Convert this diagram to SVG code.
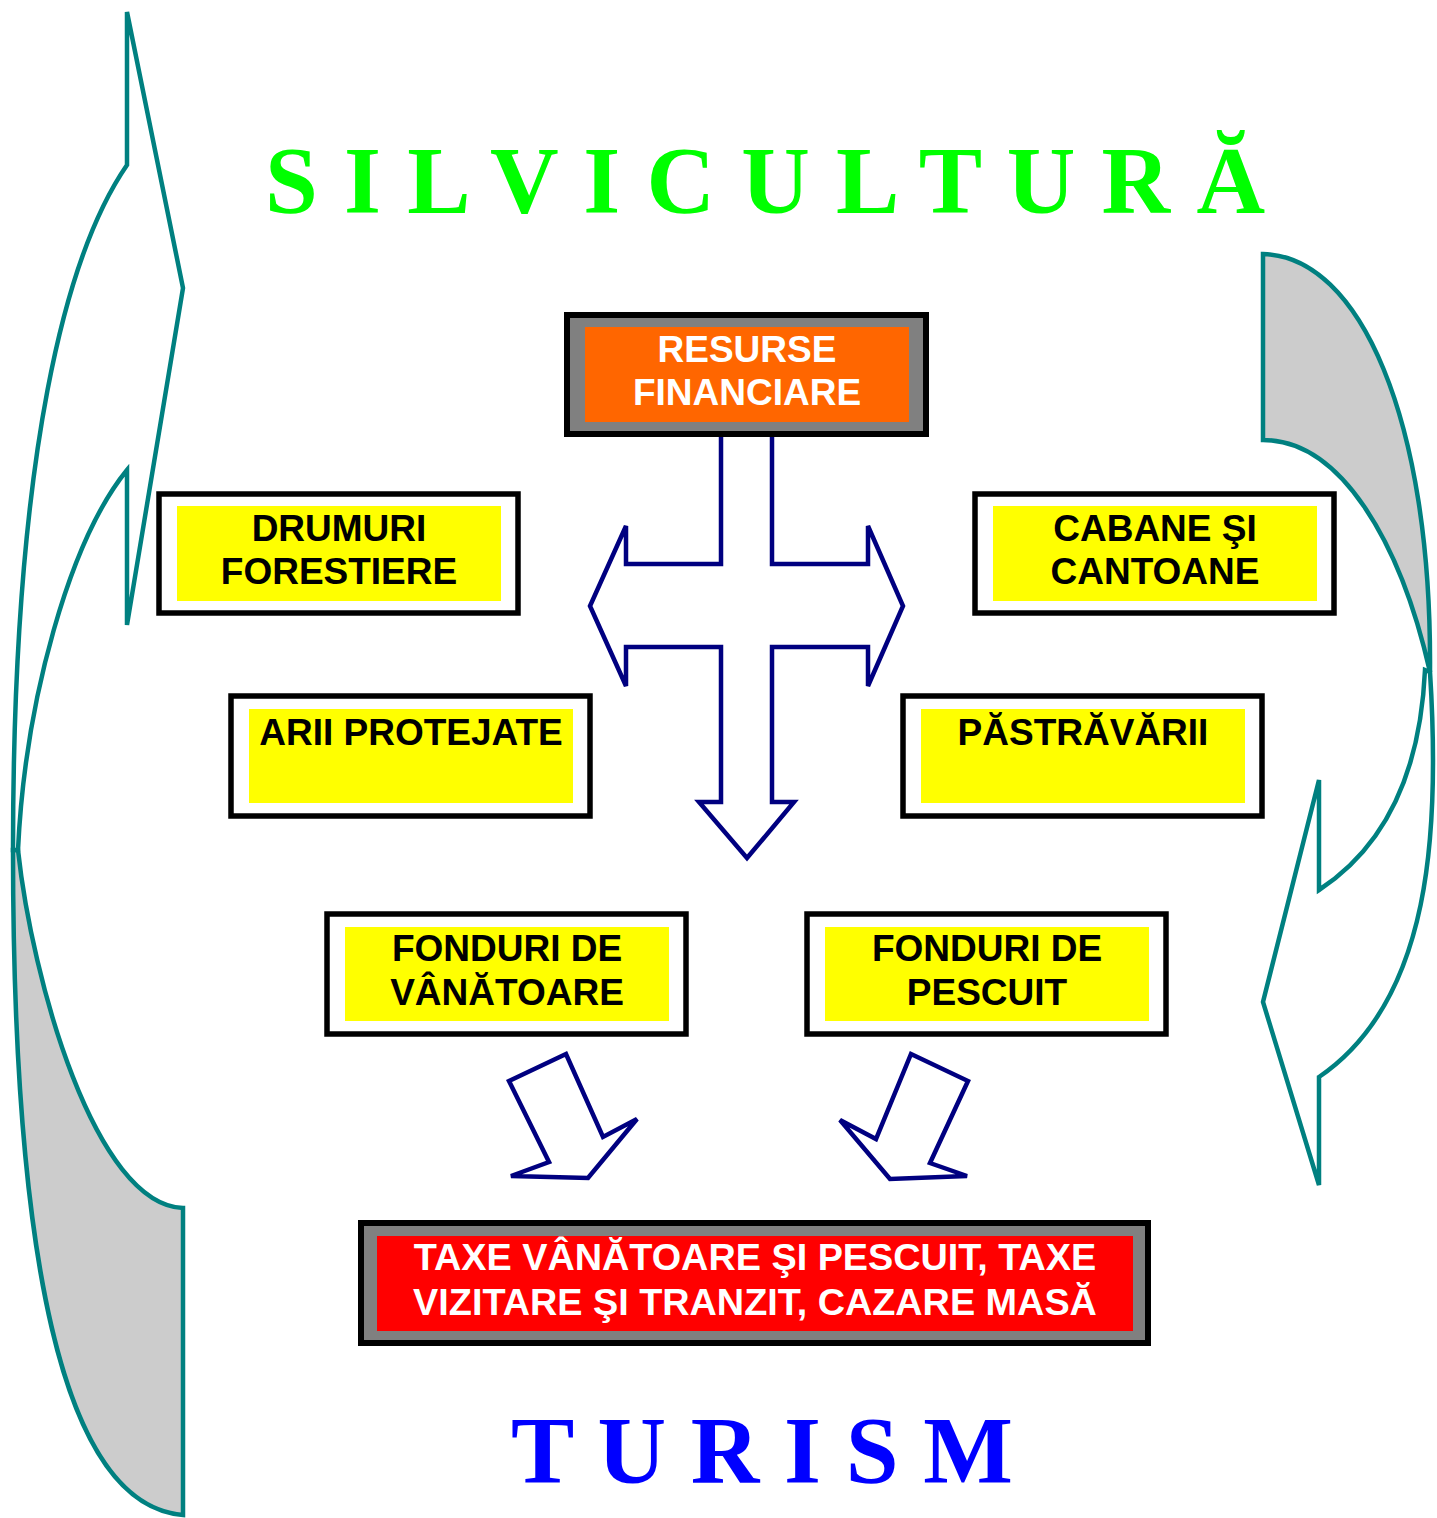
<svg xmlns="http://www.w3.org/2000/svg" width="1437" height="1518" viewBox="0 0 1437 1518">
<style>
.teal{stroke:#008080;stroke-width:4.5;stroke-linejoin:miter;}
.navy{fill:#FFFFFF;stroke:#000080;stroke-width:4.5;stroke-linejoin:miter;}
.frame{fill:#FFFFFF;stroke:#000000;stroke-width:5.5;}
.gframe{fill:#808080;stroke:#000000;stroke-width:6;}
.yel{fill:#FFFF00;}
.lbl{font-family:"Liberation Sans",Arial,sans-serif;font-weight:bold;font-size:37px;text-anchor:middle;fill:#000000;}
.wlbl{font-family:"Liberation Sans",Arial,sans-serif;font-weight:bold;font-size:37px;text-anchor:middle;fill:#FFFFFF;}
.big{font-family:"Liberation Serif","Times New Roman",serif;font-weight:bold;font-size:95px;}
</style>
<rect width="1437" height="1518" fill="#FFFFFF"/>

<g id="cycle-arrows">
  <!-- left curved arrow (tail bottom, head top) -->
  <path class="teal" fill="#CCCCCC" d="M13,850 C13,1250 60,1505 183,1515 L183,1208 C95,1205 32,980 18,850 Z"/>
  <path class="teal" fill="#FFFFFF" d="M13,850 C13,450 67,252 127,165 L127,12 L183,288 L127,625 L127,470 C70,540 25,700 18,850 Z"/>
  <!-- right curved arrow (tail top, head bottom) -->
  <path class="teal" fill="#CCCCCC" d="M1263,254 C1360,256 1432,420 1430,672 C1400,540 1340,440 1263,440 Z"/>
  <path class="teal" fill="#FFFFFF" d="M1430,672 C1440,830 1432,1000 1319,1077 L1319,1185 L1263,1002 L1319,780 L1319,890 C1380,850 1420,780 1425,670 Z"/>
</g>

<g id="connectors">
  <polygon class="navy" points="721,432 721,564 626,564 626,526 590,606 626,686 626,647 721,647 721,802 699,802 747,858 794,802 772,802 772,647 868,647 868,686 903,606 868,526 868,564 772,564 772,432"/>
  <polygon class="navy" points="509,1081 566,1054 603,1137 637,1119 588,1178 511,1176 549,1162"/>
  <polygon class="navy" points="911,1054 968,1081 930,1163 967,1176 890,1179 840,1120 876,1139"/>
</g>

<g id="title-silvicultura">
  <text class="big" x="265" y="213" fill="#00FF00" textLength="1000" lengthAdjust="spacing">S I L V I C U L T U R Ă</text>
</g>

<g id="node-resurse">
  <rect class="gframe" x="567" y="315" width="359" height="119"/>
  <rect x="585" y="327" width="324" height="95" fill="#FF6600"/>
  <text class="wlbl" x="747" y="362">RESURSE</text>
  <text class="wlbl" x="747" y="405">FINANCIARE</text>
</g>

<g id="node-drumuri">
  <rect class="frame" x="159" y="494" width="359" height="119"/>
  <rect class="yel" x="177" y="506" width="324" height="95"/>
  <text class="lbl" x="339" y="541">DRUMURI</text>
  <text class="lbl" x="339" y="584">FORESTIERE</text>
</g>

<g id="node-cabane">
  <rect class="frame" x="975" y="494" width="359" height="119"/>
  <rect class="yel" x="993" y="506" width="324" height="95"/>
  <text class="lbl" x="1155" y="541">CABANE ŞI</text>
  <text class="lbl" x="1155" y="584">CANTOANE</text>
</g>

<g id="node-arii">
  <rect class="frame" x="231" y="696" width="359" height="120"/>
  <rect class="yel" x="249" y="709" width="324" height="94"/>
  <text class="lbl" x="411" y="745">ARII PROTEJATE</text>
</g>

<g id="node-pastravarii">
  <rect class="frame" x="903" y="696" width="359" height="120"/>
  <rect class="yel" x="921" y="709" width="324" height="94"/>
  <text class="lbl" x="1083" y="745">PĂSTRĂVĂRII</text>
</g>

<g id="node-vanatoare">
  <rect class="frame" x="327" y="914" width="359" height="120"/>
  <rect class="yel" x="345" y="927" width="324" height="94"/>
  <text class="lbl" x="507" y="961">FONDURI DE</text>
  <text class="lbl" x="507" y="1005">VÂNĂTOARE</text>
</g>

<g id="node-pescuit">
  <rect class="frame" x="807" y="914" width="359" height="120"/>
  <rect class="yel" x="825" y="927" width="324" height="94"/>
  <text class="lbl" x="987" y="961">FONDURI DE</text>
  <text class="lbl" x="987" y="1005">PESCUIT</text>
</g>

<g id="node-taxe">
  <rect class="gframe" x="361" y="1223" width="787" height="120"/>
  <rect x="377" y="1236" width="756" height="95" fill="#FF0000"/>
  <text class="wlbl" x="755" y="1270" style="font-size:37.8px">TAXE VÂNĂTOARE ŞI PESCUIT, TAXE</text>
  <text class="wlbl" x="755" y="1315" style="font-size:37.8px">VIZITARE ŞI TRANZIT, CAZARE MASĂ</text>
</g>

<g id="title-turism">
  <text class="big" x="511" y="1483" fill="#0000FF" textLength="502" lengthAdjust="spacing">T U R I S M</text>
</g>
</svg>
